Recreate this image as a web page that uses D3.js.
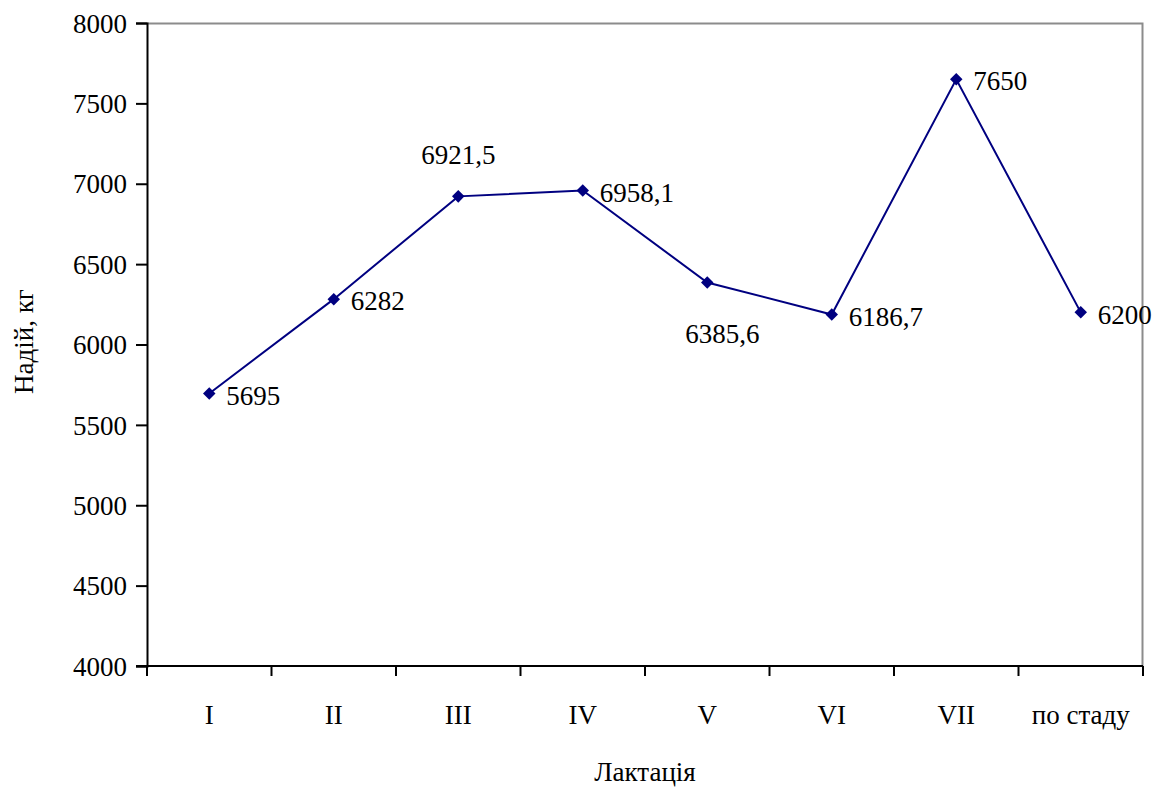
<!DOCTYPE html>
<html>
<head>
<meta charset="utf-8">
<script src="https://cdn.jsdelivr.net/npm/d3@7"></script>
<style>
  html, body { margin: 0; padding: 0; background: #fff; }
  svg { display: block; }
  svg text { font-family: "Liberation Serif", Tinos, "Times New Roman", Times, "DejaVu Serif", "Noto Serif", serif !important; fill: #000; }
</style>
</head>
<body>
<svg id="chart" width="1161" height="787"></svg>
<script>
// Lactation numbers and the herd average
const categories = ["I", "II", "III", "IV", "V", "VI", "VII", "по стаду"];
// Milk yield, kg
const yields = [5695, 6282, 6921.5, 6958.1, 6385.6, 6186.7, 7650, 6200];
// Value labels as printed (Ukrainian decimal comma)
const valueLabels = ["5695", "6282", "6921,5", "6958,1", "6385,6", "6186,7", "7650", "6200"];
// Where each value label sits relative to its point
const labelPlacement = ["right", "right", "above", "right", "below", "right", "right", "right"];
const yTicks = [4000, 4500, 5000, 5500, 6000, 6500, 7000, 7500, 8000];

const FONT = '"Liberation Serif", Tinos, "Times New Roman", Times, "DejaVu Serif", "Noto Serif", serif';

const svg = d3.select("#chart");
const margin = { left: 147, right: 18, top: 23, bottom: 121 };
const W = 1161, H = 787;
const plotW = W - margin.left - margin.right;
const plotH = H - margin.top - margin.bottom;

const x = d3.scaleBand().domain(categories).range([0, plotW]).padding(0);
const y = d3.scaleLinear().domain([4000, 8000]).range([plotH, 0]);

const g = svg.append("g").attr("transform", `translate(${margin.left},${margin.top})`);

// Plot-area frame (top and right edges)
g.append("path")
  .attr("d", `M0,0.5 H${plotW - 0.5} V${plotH}`)
  .attr("fill", "none")
  .attr("stroke", "#8c8c8c")
  .attr("stroke-width", 2);

// Y axis
const yAxis = g.append("g")
  .call(d3.axisLeft(y).tickValues(yTicks).tickSize(11).tickPadding(9).tickFormat(d3.format("d")));
yAxis.attr("font-family", FONT).attr("font-size", 27);
yAxis.select(".domain").attr("stroke", "#000").attr("stroke-width", 2);
yAxis.selectAll(".tick line").attr("stroke", "#000").attr("stroke-width", 2);
yAxis.selectAll(".tick text")
  .attr("font-family", FONT)
  .attr("font-size", 27)
  .attr("dy", "0.34em");

// X axis: ticks on category boundaries, labels centred in each band
const xg = g.append("g").attr("transform", `translate(0,${plotH})`);
xg.append("line")
  .attr("x1", -11).attr("x2", plotW)
  .attr("stroke", "#000").attr("stroke-width", 2);
const boundaries = categories.map(c => x(c)).concat([plotW]);
xg.selectAll("line.tick")
  .data(boundaries)
  .join("line")
  .attr("class", "tick")
  .attr("x1", d => d).attr("x2", d => d)
  .attr("y1", 0).attr("y2", 10)
  .attr("stroke", "#000").attr("stroke-width", 2);
xg.selectAll("text.cat")
  .data(categories)
  .join("text")
  .attr("class", "cat")
  .attr("x", d => x(d) + x.bandwidth() / 2)
  .attr("y", 58)
  .attr("text-anchor", "middle")
  .attr("font-family", FONT)
  .attr("font-size", 27)
  .text(d => d);

// Axis titles
svg.append("text")
  .attr("transform", `translate(33,${margin.top + plotH / 2 - 3}) rotate(-90)`)
  .attr("text-anchor", "middle")
  .attr("font-family", FONT)
  .attr("font-size", 27)
  .text("Надій, кг");
svg.append("text")
  .attr("x", margin.left + plotW / 2)
  .attr("y", 781)
  .attr("text-anchor", "middle")
  .attr("font-family", FONT)
  .attr("font-size", 27)
  .text("Лактація");

// Series line
const pts = categories.map((c, i) => ({ c, v: yields[i], label: valueLabels[i], pos: labelPlacement[i] }));
const line = d3.line().x(d => x(d.c) + x.bandwidth() / 2).y(d => y(d.v));
g.append("path")
  .datum(pts)
  .attr("d", line)
  .attr("fill", "none")
  .attr("stroke", "#000080")
  .attr("stroke-width", 2);

// Diamond markers
const diamond = d3.symbol().type(d3.symbolDiamond2).size(100);
g.selectAll("path.marker")
  .data(pts)
  .join("path")
  .attr("class", "marker")
  .attr("d", diamond)
  .attr("transform", d => `translate(${x(d.c) + x.bandwidth() / 2},${y(d.v)})`)
  .attr("fill", "#000080");

// Value labels
g.selectAll("text.val")
  .data(pts)
  .join("text")
  .attr("class", "val")
  .attr("x", d => {
    const cx = x(d.c) + x.bandwidth() / 2;
    if (d.pos === "right") return cx + 17;
    if (d.pos === "below") return cx + 15;
    return cx;
  })
  .attr("y", d => {
    const cy = y(d.v);
    if (d.pos === "above") return cy - 42;
    if (d.pos === "below") return cy + 51;
    return cy + 2;
  })
  .attr("dy", "0.34em")
  .attr("text-anchor", d => d.pos === "right" ? "start" : "middle")
  .attr("font-family", FONT)
  .attr("font-size", 27)
  .text(d => d.label);
</script>
</body>
</html>
